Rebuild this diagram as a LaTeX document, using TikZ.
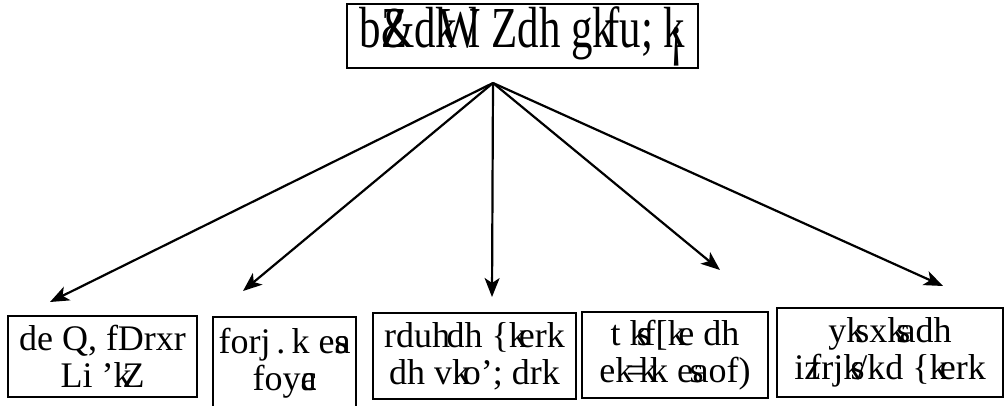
\documentclass[tikz,border=0pt]{standalone}
\usepackage{fontspec}
\setmainfont{Liberation Serif}
\newfontfamily\narrowfont[FakeStretch=0.74]{Liberation Serif}
\usetikzlibrary{arrows.meta,positioning}
\newcommand{\ov}[2]{\rlap{#1}#2}
\newcommand{\bk}[1]{\kern-#1em}
\tikzstyle{heading} = [draw, line width=2.4pt, minimum width=351pt, minimum height=64pt, inner sep=0pt, font=\narrowfont\fontsize{58}{60}\selectfont]
\tikzstyle{effect} = [draw, line width=2.4pt, align=center, inner sep=0pt, font=\fontsize{36}{37}\selectfont]
\tikzstyle{arrow} = [draw, line width=2.2pt, -{Stealth[length=19pt,width=15pt,inset=5pt]}]
\newcommand{\effect}[4]{node (e#1) [effect, minimum width=#2pt, minimum height=#3pt] {#4}}

\begin{document}
\begin{tikzpicture}[x=1pt,y=1pt]
\useasboundingbox (0,0) rectangle (1006,405);
\path (522.5,369) node (h1) [heading] {b\ov{Z}{\&}dk\bk{.3}W\bk{.2}l Zdh gk\bk{.15}fu; k\llap{\raisebox{-0.12em}{¡}\kern0.02em}};
\coordinate (hub) at (493,322);

\path (102.5,48.5) \effect{1}{189}{81}{de Q, fDrxr\\Li 'k\bk{.25}Z};
\path (284.5,41.5) \effect{2}{143}{93}{forj\,.\,k e\ov{s}{a}\\foy\ov{a}{c}};
\path (474.5,49) \effect{3}{203}{86}{rduh\bk{.1}dh \{k\bk{.22}erk\\dh vk\bk{.2}o'; drk};
\path (675,50) \effect{4}{186}{86}{t k\bk{.3}s\bk{.2}f[k\bk{.2}e dh\\ek\bk{.2}=\bk{.2}k\bk{.2}k e\bk{.1}s\bk{.3}aof)};
\path (890,52.5) \effect{5}{226}{89}{yk\bk{.25}sxk\bk{.25}s\bk{.3}adh\\iz\bk{.3}frjk\bk{.3}s\bk{.2}/kd \{k\bk{.22}erk};

\coordinate (t1) at (50,103);
\coordinate (t2) at (243,114);
\coordinate (t3) at (492,108);
\coordinate (t4) at (720,135);
\coordinate (t5) at (943,119);
\foreach \i in {1,...,5}
  \path [arrow] (hub) -- (t\i);
\end{tikzpicture}
\end{document}
